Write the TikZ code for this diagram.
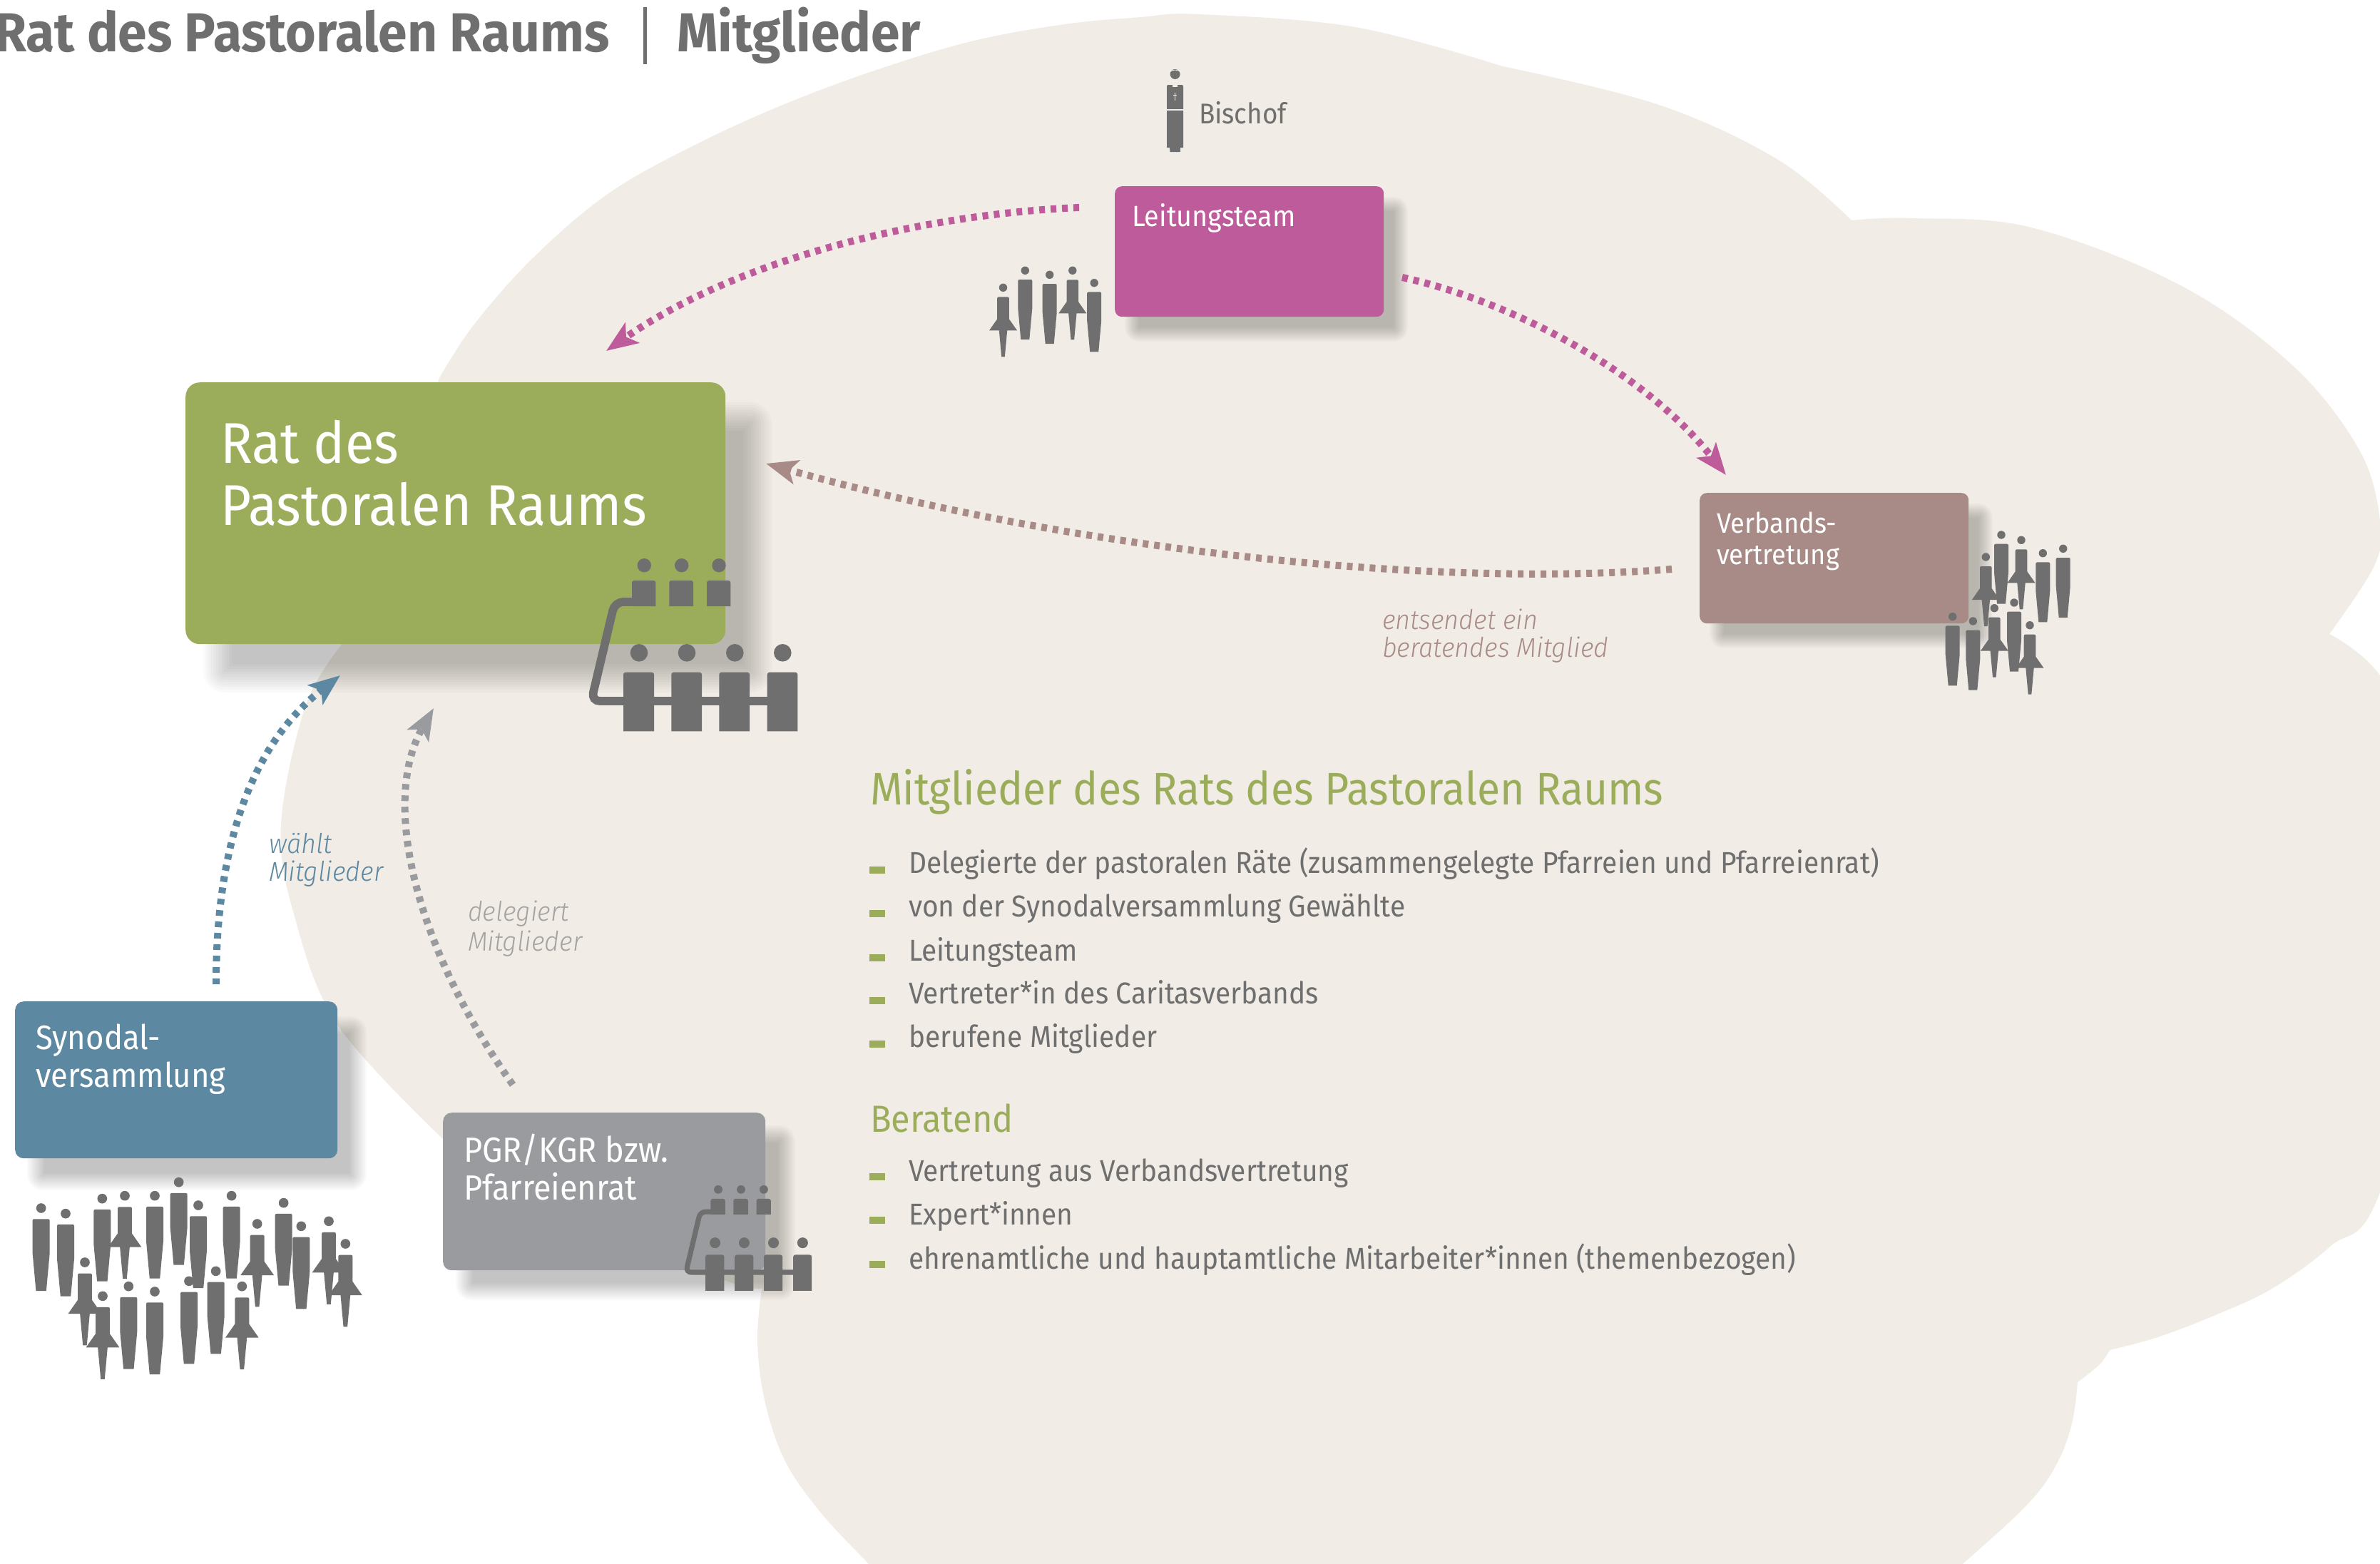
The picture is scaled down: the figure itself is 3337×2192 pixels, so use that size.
\documentclass[tikz,border=0pt]{standalone}
\usepackage{fontspec}
\setmainfont{Fira Sans}[ItalicFont=* Light Italic,BoldFont=* Bold,UprightFeatures={FakeStretch=0.92},ItalicFeatures={FakeStretch=0.95},BoldFeatures={FakeStretch=0.95}]
\usetikzlibrary{arrows.meta}
\definecolor{cloudc}{HTML}{F1EDE6}
\definecolor{darkc}{HTML}{6F6F6F}
\definecolor{greenc}{HTML}{9BAD5A}
\definecolor{magc}{HTML}{BD5B9B}
\definecolor{brownc}{HTML}{A88B87}
\definecolor{bluec}{HTML}{5C88A2}
\definecolor{greyc}{HTML}{9A9B9E}
\definecolor{lgreyc}{HTML}{A3A3A3}
\newcommand{\softshadow}[7]{% x1 y1 x2 y2 dx dy blur
  \foreach \ii in {0,...,11}{
    \pgfmathsetmacro{\ee}{#7*(1-2*\ii/11)}
    \pgfmathsetmacro{\rr}{max(2,10+\ee)}
    \fill[black,opacity=.02,rounded corners=\rr pt]
      ({#1+#5-\ee},{#2+#6-\ee}) rectangle ({#3+#5+\ee},{#4+#6+\ee});
  }}
\newcommand{\manfig}[3]{\begin{scope}[shift={(#1,#2)},scale=#3]
  \fill[darkc] (0,0) circle[radius=5.7];
  \fill[darkc] (-6,96.7) -- (-10,53) [rounded corners=2pt] -- (-10,12.7) -- (10,12.7) [sharp corners] -- (10,53) -- (6,96.7) -- cycle;
\end{scope}}
\newcommand{\womanfig}[3]{\begin{scope}[shift={(#1,#2)},scale=#3]
  \fill[darkc] (0,0) circle[radius=5.7];
  \fill[darkc] (-2.3,97) -- (-5.7,60) -- (-19.5,60) -- (-8.3,44) [rounded corners=2pt] -- (-8.3,13) -- (8.3,13) [sharp corners] -- (8.3,44) -- (19.5,60) -- (5.7,60) -- (2.3,97) -- cycle;
\end{scope}}
\newcommand{\seat}[4]{\fill[darkc] (#1,#4) [rounded corners=3pt] -- (#1,#3) -- (#2,#3) [sharp corners] -- (#2,#4) -- cycle;}
\newcommand{\councilfig}[4]{\begin{scope}[shift={(#1,#2)},scale=#3]
  \foreach \hx in {903.3,955.7,1008}{\fill[darkc] (\hx,792.7) circle[radius=9.7];}
  \seat{886}{919.3}{814}{850}\seat{938.3}{972}{814}{850}\seat{991}{1024.3}{814}{850}
  \foreach \hx in {896,963,1030.3,1097.3}{\fill[darkc] (\hx,915.3) circle[radius=12.3];}
  \seat{874}{917}{942.7}{1025.3}\seat{941.3}{984}{942.7}{1025.3}\seat{1008.3}{1051}{942.7}{1025.3}\seat{1075.7}{1118.3}{942.7}{1025.3}
  \draw[darkc,line width=#4*11.7pt,rounded corners=#4*12pt] (895,844) -- (862,844) -- (829,983) -- (1090,983);
\end{scope}}
\tikzset{
  boxst/.style={anchor=north west,inner sep=0,rounded corners=#1},
  lab/.style={anchor=base west,inner sep=0,outer sep=0},
  flow/.style={line width=10pt,dash pattern=on 8pt off 8pt,-{Stealth[length=44pt,width=34pt,inset=10pt]}},
  bull/.style={anchor=south west,inner sep=0,minimum width=22pt,minimum height=10pt,fill=greenc},
  bodytxt/.style={lab,text=darkc,font=\fontsize{42.3}{42.3}\selectfont},
  boxtxt/.style={lab,text=white,font=\fontsize{39.5}{39.5}\selectfont},
  itxt/.style={lab,font=\fontsize{38}{38}\selectfont\itshape},
}
\begin{document}
\begin{tikzpicture}[x=1pt,y=-1pt]
\useasboundingbox (0,0) rectangle (3337,2192);
\fill[white] (0,0) rectangle (3337,2192);
% cloud
\fill[cloudc]
  plot[smooth,tension=.6] coordinates {(621,1597)(474,1438)(413,1285)(394,1157)(428,991)(478,905)}
  -- plot[smooth,tension=.6] coordinates {(616,530)(664,456)(747,362)(855,270)(983,199)(1110,142)(1238,95)(1366,57)(1493,34)(1600,24)(1680,20)(1900,38)(2107,93)}
  -- plot[smooth,tension=.6] coordinates {(2107,93)(2326,147)(2493,224)(2596,309)}
  -- plot[smooth,tension=.6] coordinates {(2596,309)(2681,306)(2848,319)(3057,400)(3214,512)(3308,631)(3337,730)(3329,793)(3266,889)}
  -- plot[smooth,tension=.6] coordinates {(3266,889)(3337,947)(3420,1100)(3440,1300)(3337,1672)(3268,1747)(3187,1806)(3106,1844)(3025,1875)(2958,1893)}
  -- plot[smooth,tension=.6] coordinates {(2958,1893)(2944,1913)(2913,1938)}
  -- plot[smooth,tension=.6] coordinates {(2913,1938)(2905,1996)(2883,2054)(2842,2110)(2753,2192)(2670,2265)}
  -- plot[smooth,tension=.6] coordinates {(1290,2270)(1217,2192)(1150,2120)(1100,2047)(1072,1963)(1062,1880)(1068,1807)}
  -- plot[smooth,tension=.6] coordinates {(1068,1807)(1011,1793)(800,1700)(621,1597)}
  -- cycle;
% title
\node[lab,text=darkc,font=\fontsize{77}{77}\selectfont\bfseries] (title) at (-8,73) {Rat des Pastoralen Raums};
\node[lab,text=darkc,font=\fontsize{77}{77}\selectfont\bfseries] (title2) at (949,73) {Mitglieder};
\fill[darkc] (902,10) rectangle (907,90);
% shadows
\softshadow{260}{536}{1017}{903}{45}{48}{20}
\softshadow{1563}{261}{1940}{444}{24}{25}{10}
\softshadow{2383}{691}{2760}{874}{24}{25}{10}
\softshadow{21}{1404}{473}{1624}{29}{33}{12}
\softshadow{621}{1560}{1073}{1781}{30}{30}{12}
% boxes
\node[boxst=20pt,fill=greenc,minimum width=757pt,minimum height=367pt] (rat) at (260,536) {};
\node[boxst=10pt,fill=magc,minimum width=377pt,minimum height=183pt] (leit) at (1563,261) {};
\node[boxst=10pt,fill=brownc,minimum width=377pt,minimum height=183pt] (verb) at (2383,691) {};
\node[boxst=12pt,fill=bluec,minimum width=452pt,minimum height=220pt] (syn) at (21,1404) {};
\node[boxst=12pt,fill=greyc,minimum width=452pt,minimum height=221pt] (pgr) at (621,1560) {};
% box labels
\node[lab,text=white,font=\fontsize{80.5}{80.5}\selectfont] (r1) at (309,649) {Rat des};
\node[lab,text=white,font=\fontsize{80.5}{80.5}\selectfont] (r2) at (309,736) {Pastoralen Raums};
\node[boxtxt,font=\fontsize{41}{41}\selectfont] (l1) at (1587,317) {Leitungsteam};
\node[boxtxt] (v1) at (2407,747) {Verbands-};
\node[boxtxt] (v2) at (2407,791) {vertretung};
\node[boxtxt,font=\fontsize{47.5}{47.5}\selectfont] (s1) at (50,1471) {Synodal-};
\node[boxtxt,font=\fontsize{47.5}{47.5}\selectfont] (s2) at (50,1524) {versammlung};
\node[boxtxt,font=\fontsize{49}{49}\selectfont] (p1) at (650,1629) {PGR/KGR bzw.};
\node[boxtxt,font=\fontsize{49}{49}\selectfont] (p2) at (650,1682) {Pfarreienrat};
\node[bodytxt,font=\fontsize{40}{40}\selectfont] (bi) at (1681,173) {Bischof};
% connectors
\coordinate (a1s) at (1513,291); \coordinate (a1e) at (850,492);
\coordinate (a2s) at (1966,389); \coordinate (a2e) at (2420,666);
\coordinate (a3s) at (2344,798); \coordinate (a3e) at (1074,650);
\coordinate (a4s) at (303,1380); \coordinate (a4e) at (477,947);
\coordinate (a5s) at (719,1521); \coordinate (a5e) at (608,993);
\draw[flow,magc] (a1s) .. controls (1300,300) and (1040,360) .. (a1e);
\draw[flow,magc] (a2s) .. controls (2110,420) and (2300,515) .. (a2e);
\draw[flow,brownc] (a3s) .. controls (2000,825) and (1500,770) .. (a3e);
\draw[flow,bluec] (a4s) .. controls (303,1200) and (345,1050) .. (a4e);
\draw[flow,greyc] (a5s) .. controls (590,1340) and (530,1130) .. (a5e);
% arrow labels
\node[itxt,text=bluec] (w1) at (377,1196) {wählt};
\node[itxt,text=bluec] (w2) at (377,1235) {Mitglieder};
\node[itxt,text=lgreyc] (d1) at (656,1291) {delegiert};
\node[itxt,text=lgreyc] (d2) at (656,1333) {Mitglieder};
\node[itxt,text=brownc] (e1) at (1938,882) {entsendet ein};
\node[itxt,text=brownc] (e2) at (1938,921) {beratendes Mitglied};
% list
\node[lab,text=greenc,font=\fontsize{64}{64}\selectfont] (h1) at (1220,1128) {Mitglieder des Rats des Pastoralen Raums};
\node[bodytxt] (i1) at (1274,1224) {Delegierte der pastoralen Räte (zusammengelegte Pfarreien und Pfarreienrat)};
\node[bodytxt] (i2) at (1274,1285) {von der Synodalversammlung Gewählte};
\node[bodytxt] (i3) at (1274,1347) {Leitungsteam};
\node[bodytxt] (i4) at (1274,1407) {Vertreter*in des Caritasverbands};
\node[bodytxt] (i5) at (1274,1468) {berufene Mitglieder};
\node[lab,text=greenc,font=\fontsize{53}{53}\selectfont] (h2) at (1220,1587) {Beratend};
\node[bodytxt] (j1) at (1274,1656) {Vertretung aus Verbandsvertretung};
\node[bodytxt] (j2) at (1274,1717) {Expert*innen};
\node[bodytxt] (j3) at (1274,1779) {ehrenamtliche und hauptamtliche Mitarbeiter*innen (themenbezogen)};
\foreach \yy/\nn in {1225/b1,1286/b2,1348/b3,1408/b4,1469/b5,1655/b6,1716/b7,1778/b8}{
  \node[bull] (\nn) at (1219,\yy) {};
}
% people
\womanfig{1406.5}{403.3}{1}\manfig{1437.3}{379.3}{1}\manfig{1471.7}{385.3}{1}\womanfig{1503.8}{379.3}{1}\manfig{1534.2}{396.7}{1}
\womanfig{2784.3}{781}{1}\manfig{2806}{750}{1}\womanfig{2834}{757.3}{1}\manfig{2864.3}{775.7}{1}\manfig{2892.7}{769.3}{1}
\manfig{2737.7}{864.7}{1}\manfig{2766.3}{871}{1}\womanfig{2796.3}{852.7}{1}\manfig{2824}{845}{1}\womanfig{2846}{876.7}{1}
\foreach \hx/\hy in {113/222,216/245,370/182,591/170,692/113,774/210,914/170,1133/200,1207/298,481/551,591/573,735/529,848/487}{
  \manfig{20+\hx/3}{1620+\hy/3}{1.2}}
\foreach \hx/\hy in {465/170,297/450,372/592,1022/288,1323/277,1393/372,958/551}{
  \womanfig{20+\hx/3}{1620+\hy/3}{1.2}}
% bishop
\fill[darkc] (1647.6,104) circle[radius=7];
\draw[cloudc,line width=.8pt] (1641,100) .. controls (1645,97.5) and (1650,97.5) .. (1654,100);
\fill[darkc] (1640.5,213) -- (1640,207) -- (1636,207) [rounded corners=2pt] -- (1636,119) -- (1659,119) [sharp corners] -- (1659,207) -- (1655,207) -- (1654.7,213) -- cycle;
\draw[cloudc,line width=2pt] (1634,154) -- (1661,154);
\draw[cloudc,line width=.9pt] (1647.6,130) -- (1647.6,141) (1645,133.5) -- (1650.2,133.5);
\fill[cloudc] (1644,119) rectangle (1651,121.5);
% councils
\councilfig{0}{0}{1}{1}
\councilfig{456}{1184.3}{.61}{.61}
\end{tikzpicture}
\end{document}
